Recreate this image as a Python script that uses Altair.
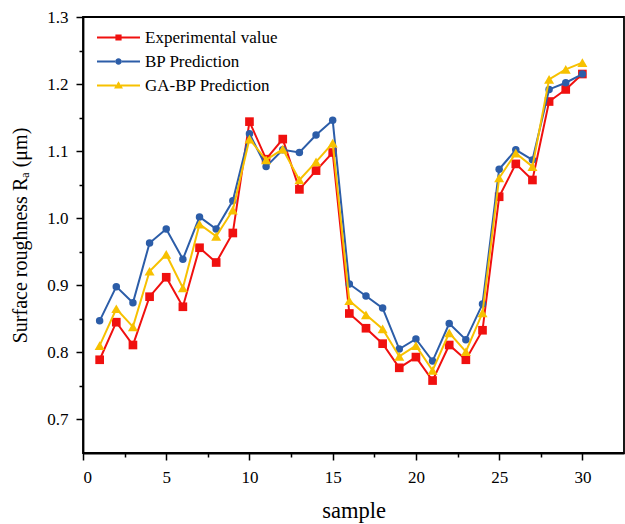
import altair as alt
import pandas as pd

# ---- data ----
samples = list(range(1, 31))
experimental = [0.789, 0.845, 0.811, 0.883, 0.912, 0.868, 0.956, 0.934, 0.978, 1.144,
                1.088, 1.118, 1.043, 1.071, 1.098, 0.858, 0.836, 0.813, 0.777, 0.793,
                0.758, 0.811, 0.789, 0.833, 1.032, 1.081, 1.057, 1.174, 1.192, 1.215]
bp_pred = [0.847, 0.898, 0.874, 0.963, 0.984, 0.939, 1.002, 0.984, 1.026, 1.126,
           1.077, 1.102, 1.098, 1.124, 1.146, 0.902, 0.884, 0.866, 0.805, 0.820,
           0.787, 0.843, 0.819, 0.872, 1.073, 1.102, 1.087, 1.192, 1.202, 1.215]
gabp_pred = [0.810, 0.865, 0.838, 0.921, 0.946, 0.896, 0.991, 0.973, 1.012, 1.118,
             1.087, 1.103, 1.057, 1.084, 1.112, 0.877, 0.856, 0.835, 0.794, 0.810,
             0.773, 0.829, 0.801, 0.859, 1.060, 1.097, 1.077, 1.207, 1.222, 1.232]

series_names = ["Experimental value", "BP Prediction", "GA-BP Prediction"]
series_colors = ["#F0100F", "#2C5DA8", "#F7C100"]
series_shapes = ["square", "circle", "triangle-up"]
series_sizes = [75, 56, 100]

x_ticks = [0, 2.5, 5, 7.5, 10, 12.5, 15, 17.5, 20, 22.5, 25, 27.5, 30]
y_ticks = [0.7, 0.75, 0.8, 0.85, 0.9, 0.95, 1.0, 1.05, 1.1, 1.15, 1.2, 1.25, 1.3]

# legend symbols: line + marker (custom paths, unit coordinates)
legend_paths = [
    "M-4.3,-0.2H-0.6V0.2H-4.3Z M0.6,-0.2H4.3V0.2H0.6Z M-0.62,-0.62H0.62V0.62H-0.62Z",
    "M-4.3,-0.2H-0.6V0.2H-4.3Z M0.6,-0.2H4.3V0.2H0.6Z M-0.65,0A0.65,0.65 0 1,0 0.65,0A0.65,0.65 0 1,0 -0.65,0Z",
    "M-4.3,-0.2H-0.5V0.2H-4.3Z M0.5,-0.2H4.3V0.2H0.5Z M0,-0.85L0.9,0.6H-0.9Z",
]

frames = []
for name, vals in zip(series_names, [experimental, bp_pred, gabp_pred]):
    frames.append(pd.DataFrame({"sample": samples, "value": vals, "series": name}))
df = pd.concat(frames, ignore_index=True)

FONT = "Liberation Serif"

x_enc = alt.X(
    "sample:Q",
    scale=alt.Scale(domain=[0, 32.5], nice=False, zero=False),
    axis=alt.Axis(
        title="sample",
        values=x_ticks,
        labelExpr="datum.value % 5 === 0 ? format(datum.value, 'd') : ''",
        tickSize={"condition": {"test": "datum.value % 5 === 0", "value": 7}, "value": 4},
        labelOverlap=False,
        labelPadding=9,
        titlePadding=14,
        titleFontSize=22.5,
        grid=False,
    ),
)
y_enc = alt.Y(
    "value:Q",
    scale=alt.Scale(domain=[0.65, 1.3], nice=False, zero=False),
    axis=alt.Axis(
        title="Surface roughness Rₐ (μm)",
        values=y_ticks,
        labelExpr="abs(datum.value*10 - round(datum.value*10)) < 0.001 ? format(datum.value, '.1f') : ''",
        tickSize={"condition": {"test": "abs(datum.value*10 - round(datum.value*10)) < 0.001", "value": 7}, "value": 4},
        labelOverlap=False,
        labelPadding=8,
        titlePadding=16,
        titleFontSize=20,
        grid=False,
    ),
)

legend_opts = dict(
    title=None,
    orient="none",
    legendX=27,
    legendY=12,
    labelOffset=18,
    symbolSize=100,
    symbolStrokeWidth=0,
    labelFont=FONT,
    labelFontSize=17,
    labelColor="black",
    rowPadding=6,
    padding=0,
    symbolOpacity=1,
)

base = alt.Chart(df)
layers = []
for name, color, shape, size in zip(series_names, series_colors, series_shapes, series_sizes):
    sub = base.transform_filter(alt.datum.series == name)
    layers.append(sub.mark_line(color=color, strokeWidth=2).encode(x=x_enc, y=y_enc))
    layers.append(
        sub.mark_point(filled=True, shape=shape, size=size, color=color, opacity=1).encode(x=x_enc, y=y_enc)
    )

legend_layer = base.transform_filter("false").mark_point(filled=True, opacity=1, size=100).encode(
    x=x_enc,
    y=y_enc,
    color=alt.Color(
        "series:N",
        scale=alt.Scale(domain=series_names, range=series_colors),
        legend=alt.Legend(**legend_opts),
    ),
    shape=alt.Shape(
        "series:N",
        scale=alt.Scale(domain=series_names, range=legend_paths),
        legend=alt.Legend(**legend_opts),
    ),
)

chart = (
    alt.layer(*layers, legend_layer)
    .properties(
        width=541,
        height=436,
        autosize=alt.AutoSizeParams(type="none"),
        padding={"left": 83, "top": 17, "right": 1, "bottom": 71},
        background="white",
    )
    .configure_view(stroke="black", strokeWidth=1.8)
    .configure_legend(labelFont=FONT, labelFontSize=17, labelColor="black")
    .configure_axis(
        domainColor="black",
        domainWidth=1.8,
        tickColor="black",
        tickWidth=1.5,
        labelColor="black",
        labelFont=FONT,
        labelFontSize=17,
        titleFont=FONT,
        titleFontWeight="normal",
        titleColor="black",
    )
)

chart.save("out.html", embed_options={"renderer": "svg", "actions": False})
